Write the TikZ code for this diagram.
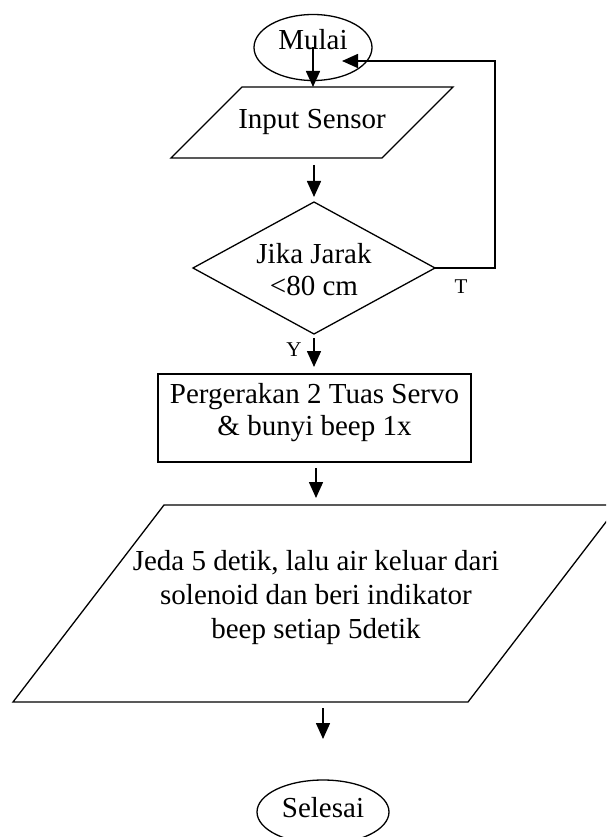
\documentclass[tikz,border=0pt]{standalone}
\usepackage{fontspec}
\setmainfont{Liberation Serif}
\usetikzlibrary{arrows.meta,shapes.geometric}
\newcommand\rtxt[2]{\raisebox{#1}[\height][\depth]{\begin{tabular}{@{}c@{}}#2\end{tabular}}}
\begin{document}
\begin{tikzpicture}[x=1pt,y=-1pt,line width=1.3pt,
  every node/.style={font=\fontsize{29}{32}\selectfont,inner sep=0pt,outer sep=0pt},
  term/.style={draw,ellipse},
  plain/.style={rectangle},
  procbox/.style={draw,rectangle},
  small/.style={font=\fontsize{21}{24}\selectfont},
  arr/.style={-{Triangle[length=16pt,width=14pt]},line width=1.6pt}]
\useasboundingbox (0,0) rectangle (606,837);
\fill[white] (0,0) rectangle (606,837);
\clip (0,0) rectangle (606,837);

% nodes
\node[term,minimum width=118,minimum height=66] (mulai) at (313,47.5) {\rtxt{4pt}{Mulai}};
\node[plain,minimum width=282,minimum height=71] (input) at (312,122.5) {\rtxt{0.2pt}{Input Sensor}};
\node[plain,minimum width=242,minimum height=132] (dec) at (314,268) {\rtxt{-5.3pt}{Jika Jarak\\<80 cm}};
\node[procbox,minimum width=313,minimum height=88] (proc) at (314.5,418) {\rtxt{4.9pt}{Pergerakan 2 Tuas Servo\\\& bunyi beep 1x}};
\node[plain,minimum width=606,minimum height=197,font=\fontsize{29}{34}\selectfont] (jeda) at (316,603.5)
  {\rtxt{6.1pt}{Jeda 5 detik, lalu air keluar dari\\solenoid dan beri indikator\\beep setiap 5detik}};
\node[term,minimum width=132,minimum height=64] (selesai) at (323,812) {\rtxt{1.2pt}{Selesai}};

% outlines
\draw ([xshift=71]input.north west) -- (input.north east) -- ([xshift=-71]input.south east) -- (input.south west) -- cycle;
\draw (dec.north) -- (dec.east) -- (dec.south) -- (dec.west) -- cycle;
\draw ([xshift=151]jeda.north west) -- (jeda.north east) -- ([xshift=-151]jeda.south east) -- (jeda.south west) -- cycle;

% labels
\node[small] (tlab) at (461,287) {T};
\node[small] (ylab) at (294,350) {Y};

% connectors
\coordinate (loopin) at (342,61);
\draw[arr] (mulai.center) -- (mulai.center |- input.north);
\draw[arr] (dec.north |- input.south) ++(0,7) -- ([yshift=5]dec.north);
\draw[arr] (dec.east) -- ++(60,0) |- (loopin);
\draw[arr] (dec.south) ++(0,4) -- ([yshift=7]dec.south |- proc.north);
\draw[arr] (jeda.north |- proc.south) ++(0,6) -- ([yshift=7]jeda.north);
\draw[arr] (selesai.north |- jeda.south) ++(0,6) -- ++(0,31);
\end{tikzpicture}
\end{document}
